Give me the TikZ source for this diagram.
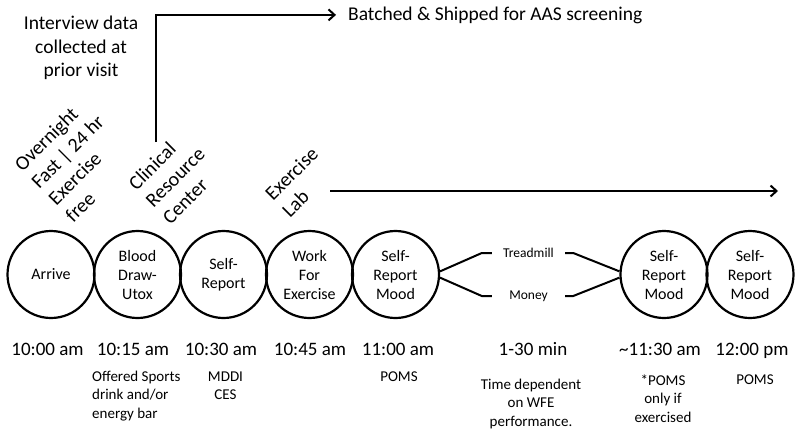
\documentclass[tikz,border=0pt]{standalone}
\usepackage{fontspec}
\setmainfont{Carlito}
\usetikzlibrary{arrows.meta}
\begin{document}
\begin{tikzpicture}[x=1pt,y=-1pt,
  circ/.style={circle,draw,line width=2.2pt,minimum size=87pt,inner sep=0pt,align=center,font=\fontsize{16}{19}\selectfont},
  big/.style={font=\fontsize{19.5}{23.5}\selectfont,inner sep=0pt,align=center},
  rot/.style={rotate=45,align=left,font=\fontsize{20}{24}\selectfont,inner sep=0pt},
  timelbl/.style={font=\fontsize{19}{22}\selectfont,inner sep=0pt,anchor=base},
  note/.style={font=\fontsize{15}{18.5}\selectfont,inner sep=0pt,anchor=north,align=center},
  opt/.style={font=\fontsize{13.5}{16}\selectfont,inner sep=0pt,minimum width=73pt},
  conn/.style={line width=2pt},
  arr/.style={line width=2pt,-{Straight Barb[length=6pt,width=11pt]}}]
\useasboundingbox (0,0) rectangle (800,432);

% circles
\node[circ] (c1) at (51,274.5) {Arrive};
\node[circ] (c2) at (137.5,274.5) {Blood\\Draw-\\Utox};
\node[circ] (c3) at (223.5,274.5) {Self-\\Report};
\node[circ] (c4) at (309.5,274.5) {Work\\For\\Exercise};
\node[circ] (c5) at (395.5,274.5) {Self-\\Report\\Mood};
\node[circ] (c7) at (664,274.5) {Self-\\Report\\Mood};
\node[circ] (c8) at (750,274.5) {Self-\\Report\\Mood};

% options
\node[opt] (tm) at (528.5,253) {Treadmill};
\node[opt] (mo) at (528.5,296) {Money};
\draw[conn] (c5.4) -- ([xshift=-10pt]tm.west) -- (tm.west);
\draw[conn] (c5.-4) -- ([xshift=-10pt]mo.west) -- (mo.west);
\draw[conn] (tm.east) -- ([xshift=8pt]tm.east) -- (c7.176);
\draw[conn] (mo.east) -- ([xshift=8pt]mo.east) -- (c7.184);

% top texts
\node[big] (iv) at (81,48) {Interview data\\collected at\\prior visit};
\node[big,anchor=base west] (bt) at (348,20) {Batched \& Shipped for AAS screening};
\coordinate (crc) at (155.5,142);
\draw[arr] (crc) |- ([xshift=-12pt]bt.west);

% rotated labels
\node[rot] (on) at (76,160) {Overnight\\Fast | 24 hr\\Exercise\\free};
\node[rot] (cl) at (175,177) {Clinical\\Resource\\Center};
\node[rot] (el) at (300,182) {Exercise\\Lab};
\coordinate (ls) at (330,191);
\coordinate (le) at (778,191);
\draw[arr] (ls) -- (le);

% times
\node[timelbl] (t1) at (47.5,355) {10:00 am};
\node[timelbl] (t2) at (133,355) {10:15 am};
\node[timelbl] (t3) at (221,355) {10:30 am};
\node[timelbl] (t4) at (310,355) {10:45 am};
\node[timelbl] (t5) at (398,355) {11:00 am};
\node[timelbl] (t6) at (533,355) {1-30 min};
\node[timelbl] (t7) at (660,355) {\textasciitilde 11:30 am};
\node[timelbl] (t8) at (752,355) {12:00 pm};

% notes
\node[note,anchor=north west,align=left] (n2) at (92,370.5) {Offered Sports\\drink and/or\\energy bar};
\node[note] (n3) at (225.5,371.3) {MDDI\\CES};
\node[note] (n5) at (399,371.3) {POMS};
\node[note] (n6) at (531,378.5) {Time dependent\\on WFE\\performance.};
\node[note] (n7) at (663,374.3) {*POMS\\only if\\exercised};
\node[note] (n8) at (755,374.3) {POMS};
\end{tikzpicture}
\end{document}
